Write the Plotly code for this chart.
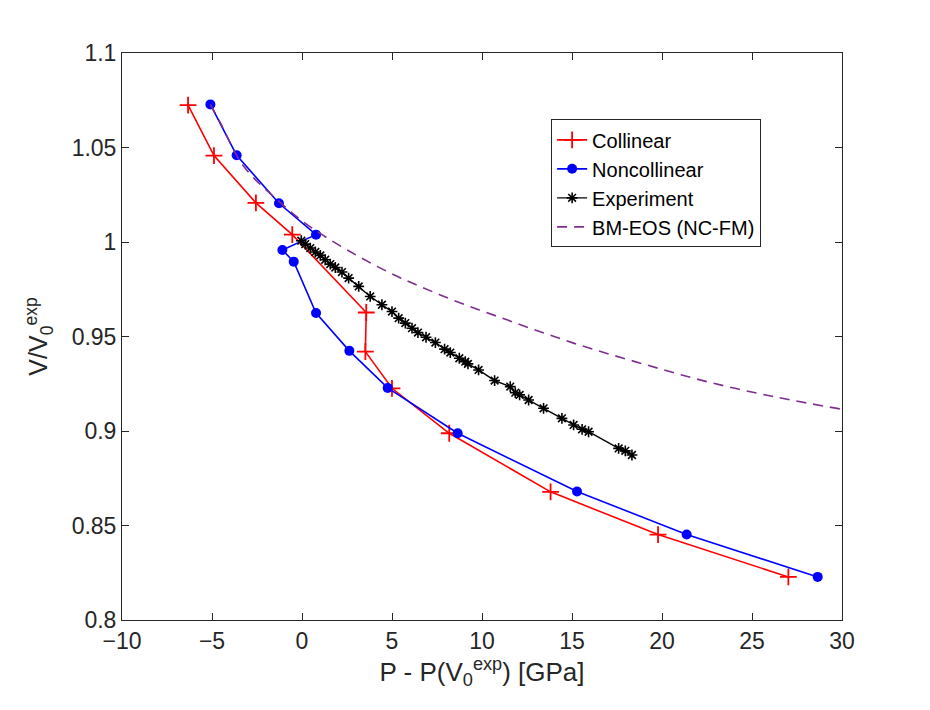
import plotly.graph_objects as go

# ==== data ====
coll_p = [-6.33, -4.89, -2.56, -0.54, 3.57, 3.52, 5.00, 8.18, 13.81, 19.78, 27.02]
coll_v = [1.0724, 1.0457, 1.0207, 1.0039, 0.9627, 0.9420, 0.9226, 0.8988, 0.8678, 0.8452, 0.8228]

noncoll_p = [-5.09, -3.63, -1.28, 0.78, -1.09, -0.46, 0.78, 2.63, 4.76, 8.65, 15.28, 21.37, 28.65]
noncoll_v = [1.0728, 1.0459, 1.0205, 1.0039, 0.9958, 0.9896, 0.9624, 0.9424, 0.9228, 0.8988, 0.8680, 0.8452, 0.8228]

exp_p = [-0.04, 0.18, 0.46, 0.74, 1.02, 1.29, 1.57, 1.85, 2.22, 2.59, 3.15, 3.79, 4.44, 5.00,
         5.37, 5.74, 6.11, 6.44, 6.89, 7.41, 7.92, 8.24, 8.74, 9.07, 9.22, 9.81, 10.70, 11.57,
         11.85, 12.09, 12.59, 13.42, 14.44, 15.09, 15.56, 15.92, 17.59, 17.96, 18.33]
exp_v = [1.0007, 0.9989, 0.9968, 0.9947, 0.9929, 0.9906, 0.9883, 0.9865, 0.9841, 0.9809, 0.9765, 0.9712, 0.9668, 0.9632,
         0.9597, 0.9571, 0.9544, 0.9521, 0.9496, 0.9468, 0.9433, 0.9415, 0.9385, 0.9367, 0.9355, 0.9323, 0.9267, 0.9235,
         0.9203, 0.9191, 0.9164, 0.9120, 0.9067, 0.9032, 0.9009, 0.8996, 0.8908, 0.8895, 0.8873]

bm_p = [-5.09, -4.54, -3.24, -1.39, 0.42, 4.17, 7.68, 11.39, 15.09, 18.80, 22.50, 26.20, 30.0]
bm_v = [1.0728, 1.0631, 1.0401, 1.0224, 1.0083, 0.9871, 0.9720, 0.9588, 0.9465, 0.9359, 0.9261, 0.9182, 0.9115]

x_ticks = [-10, -5, 0, 5, 10, 15, 20, 25, 30]
y_ticks = [0.8, 0.85, 0.9, 0.95, 1.0, 1.05, 1.1]
y_tick_text = ["0.8", "0.85", "0.9", "0.95", "1", "1.05", "1.1"]

fig = go.Figure()

fig.add_trace(go.Scatter(
    x=coll_p, y=coll_v, mode="lines+markers", name="Collinear",
    line=dict(color="#ff0000", width=1.6),
    marker=dict(symbol="cross-thin-open", size=12, line=dict(color="#ff0000", width=1.8)),
))
fig.add_trace(go.Scatter(
    x=noncoll_p, y=noncoll_v, mode="lines+markers", name="Noncollinear",
    line=dict(color="#0000ff", width=1.6),
    marker=dict(symbol="circle", size=10, color="#0000ff"),
))
fig.add_trace(go.Scatter(
    x=exp_p, y=exp_v, mode="lines+markers", name="Experiment",
    line=dict(color="#000000", width=1.4),
    marker=dict(symbol="asterisk-open", size=9, line=dict(color="#000000", width=1.6)),
))
fig.add_trace(go.Scatter(
    x=bm_p, y=bm_v, mode="lines", name="BM-EOS (NC-FM)",
    line=dict(color="#7e2f8e", width=1.6, dash="10px,7px", shape="spline"),
))

axis_common = dict(
    showgrid=False, zeroline=False, showline=True, linecolor="#262626", linewidth=1,
    mirror="allticks", ticks="inside", ticklen=7, tickcolor="#262626",
    tickfont=dict(family="Liberation Sans, Arial", size=23, color="#262626"),
)

fig.update_layout(
    width=930, height=710,
    paper_bgcolor="white", plot_bgcolor="white",
    margin=dict(l=114, r=96, t=45, b=98),
    font=dict(family="Liberation Sans, Arial", color="#262626"),
    xaxis=dict(
        range=[-10, 30], tickvals=x_ticks,
        title=dict(text="P - P(V<sub>0</sub><sup>exp</sup>) [GPa]", font=dict(size=26), standoff=2),
        **axis_common,
    ),
    yaxis=dict(
        range=[0.8, 1.1], tickvals=y_ticks, ticktext=y_tick_text,
        title=dict(text="V/V<sub>0</sub><sup>exp</sup>", font=dict(size=25), standoff=16),
        **axis_common,
    ),
    legend=dict(
        x=0.596, y=0.883, xanchor="left", yanchor="top",
        bgcolor="white", bordercolor="#262626", borderwidth=1,
        font=dict(size=20, color="#000000"), tracegroupgap=0,
    ),
)

fig.write_html("out.html")
